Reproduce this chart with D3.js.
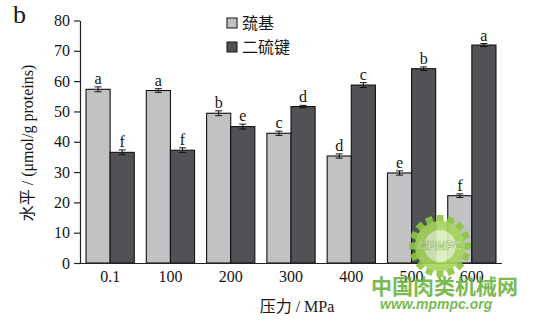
<!DOCTYPE html>
<html>
<head>
<meta charset="utf-8">
<script src="https://cdn.jsdelivr.net/npm/d3@7"></script>
<style>
  html, body { margin: 0; padding: 0; background: #fff; }
  svg { display: block; }
  text { font-family: "Liberation Serif", "Noto Sans CJK SC", serif; fill: #151515; }
</style>
</head>
<body>
<svg id="chart" width="540" height="322"></svg>
<script>
// Pressure levels (MPa)
const pressures = ["0.1", "100", "200", "300", "400", "500", "600"];
// Series names
const seriesNames = ["巯基", "二硫键"];
// Sulfhydryl content (μmol/g proteins)
const sulfhydryl = [57.3, 56.9, 49.4, 42.8, 35.3, 29.7, 22.2];
const sulfhydrylErr = [0.8, 0.6, 0.8, 0.7, 0.7, 0.7, 0.6];
const sulfhydrylLetters = ["a", "a", "b", "c", "d", "e", "f"];
// Disulfide bond content (μmol/g proteins)
const disulfide = [36.5, 37.2, 45.0, 51.6, 58.7, 64.1, 71.9];
const disulfideErr = [0.8, 0.8, 0.8, 0.4, 0.8, 0.6, 0.5];
const disulfideLetters = ["f", "f", "e", "d", "c", "b", "a"];
// Y axis ticks
const yTicks = [0, 10, 20, 30, 40, 50, 60, 70, 80];

const colors = ["#c1c2c4", "#505255"];

const svg = d3.select("#chart");
const plotLeft = 80, plotRight = 502, plotTop = 20.5, plotBottom = 263;

const x = d3.scaleBand().domain(pressures).range([plotLeft, plotRight]).paddingInner(0.2).paddingOuter(0.1);
const xs = d3.scaleBand().domain([0, 1]).range([0, x.bandwidth()]);
const y = d3.scaleLinear().domain([0, 80]).range([plotBottom, plotTop]);

const series = [
  { vals: sulfhydryl, errs: sulfhydrylErr, letters: sulfhydrylLetters },
  { vals: disulfide, errs: disulfideErr, letters: disulfideLetters }
];

// Bars, error bars and significance letters
series.forEach((s, si) => {
  const g = svg.append("g");
  pressures.forEach((p, i) => {
    const x0 = x(p) + xs(si);
    const w = xs.bandwidth();
    const v = s.vals[i], e = s.errs[i];
    g.append("rect")
      .attr("x", x0).attr("y", y(v))
      .attr("width", w).attr("height", y(0) - y(v))
      .attr("fill", colors[si]).attr("stroke", "#111").attr("stroke-width", 1.1);
    const cx = x0 + w / 2;
    g.append("line").attr("x1", cx).attr("x2", cx).attr("y1", y(v + e)).attr("y2", y(v - e))
      .attr("stroke", "#111").attr("stroke-width", 1);
    [v + e, v - e].forEach(t => {
      g.append("line").attr("x1", cx - 3.5).attr("x2", cx + 3.5).attr("y1", y(t)).attr("y2", y(t))
        .attr("stroke", "#111").attr("stroke-width", 1);
    });
    g.append("text").attr("x", cx).attr("y", y(v + e) - 3)
      .attr("text-anchor", "middle").attr("font-size", 16).text(s.letters[i]);
  });
});

// Y axis
const yAxis = svg.append("g").attr("transform", `translate(${plotLeft},0)`)
  .call(d3.axisLeft(y).tickValues(yTicks).tickSize(6).tickSizeOuter(0).tickPadding(4));
yAxis.selectAll("text").attr("font-size", 16).attr("fill", "#151515")
  .style("font-family", "Liberation Serif, serif");
yAxis.selectAll("line, path").attr("stroke", "#222").attr("stroke-width", 1.2);

// X axis (no tick marks)
const xAxis = svg.append("g").attr("transform", `translate(0,${plotBottom})`)
  .call(d3.axisBottom(x).tickSize(0).tickPadding(8));
xAxis.select("path").attr("d", `M${plotLeft},0.5H${plotRight}`).attr("stroke", "#222").attr("stroke-width", 1.2);
xAxis.selectAll("text").attr("font-size", 16).attr("fill", "#151515")
  .style("font-family", "Liberation Serif, serif");

// Axis titles
svg.append("text").attr("transform", "translate(33,143) rotate(-90)")
  .attr("text-anchor", "middle").attr("font-size", 16).text("水平 / (μmol/g proteins)");
svg.append("text").attr("x", 297).attr("y", 312)
  .attr("text-anchor", "middle").attr("font-size", 16).text("压力 / MPa");

// Panel letter
svg.append("text").attr("x", 13).attr("y", 23).attr("font-size", 26).text("b");

// Legend
const legend = svg.append("g").attr("transform", "translate(227,18)");
seriesNames.forEach((n, i) => {
  const row = legend.append("g").attr("transform", `translate(0,${i * 24})`);
  row.append("rect").attr("x", 0).attr("y", 0).attr("width", 10).attr("height", 10)
    .attr("fill", colors[i]).attr("stroke", "#111").attr("stroke-width", 1);
  row.append("text").attr("x", 15).attr("y", 11).attr("font-size", 16).text(n);
});

// Site watermark
const wm = svg.append("g").attr("opacity", 0.9);
const gear = wm.append("g").attr("transform", "translate(440,246)");
const teeth = 16;
gear.selectAll("rect.tooth").data(d3.range(teeth)).join("rect")
  .attr("x", -3.5).attr("y", -31).attr("width", 7).attr("height", 8)
  .attr("fill", "#8cc63f")
  .attr("transform", d => `rotate(${d * 360 / teeth})`);
gear.append("circle").attr("r", 25).attr("fill", "#a6d45a");
gear.append("circle").attr("r", 16).attr("fill", "#d9eebb");
gear.append("text").attr("x", 0).attr("y", 4).attr("text-anchor", "middle")
  .attr("font-size", 12).attr("font-style", "italic").attr("font-weight", "bold")
  .style("font-family", "Liberation Sans, sans-serif").style("fill", "#ffffff")
  .attr("stroke", "#7ab83a").attr("stroke-width", 0.6).text("MPMPC");
wm.append("text").attr("x", 371).attr("y", 294).attr("font-size", 21).attr("font-weight", "bold")
  .style("font-family", "Noto Sans CJK SC, sans-serif").style("fill", "#6cb33f").text("中国肉类机械网");
wm.append("text").attr("x", 380).attr("y", 309).attr("font-size", 14).attr("font-weight", "bold")
  .attr("font-style", "italic").style("font-family", "Liberation Sans, sans-serif")
  .style("fill", "#6cb33f").text("www.mpmpc.org");
</script>
</body>
</html>
